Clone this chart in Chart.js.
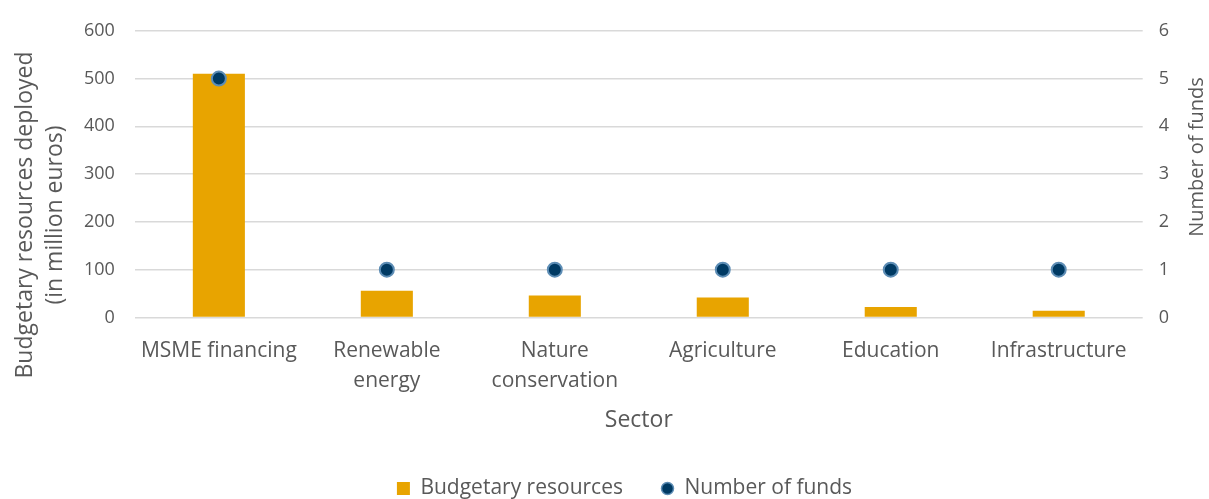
<!DOCTYPE html>
<html>
<head>
<meta charset="utf-8">
<script src="https://cdn.jsdelivr.net/npm/chart.js@4"></script>
<style>
  html, body { margin: 0; padding: 0; background: #fff; }
  #wrap { width: 1209px; height: 499px; }
</style>
</head>
<body>
<div id="wrap"><canvas id="chart" width="1209" height="499"></canvas></div>
<script>
// data
const sectors = [
  'MSME financing',
  ['Renewable', 'energy'],
  ['Nature', 'conservation'],
  'Agriculture',
  'Education',
  'Infrastructure'
];
const budgetValues = [510, 56, 46, 42, 22, 14];
const fundCounts = [5, 1, 1, 1, 1, 1];
const leftTicks = [0, 100, 200, 300, 400, 500, 600];
const rightTicks = [0, 1, 2, 3, 4, 5, 6];
const leftTitle = ['Budgetary resources deployed', '(in million euros)'];
const rightTitle = 'Number of funds';

const FONT = "'Open Sans', 'Noto Sans', sans-serif";
const textColor = '#595959';
const gridColor = '#d9d9d9';
const barColor = '#e8a400';
const dotFill = '#003a63';
const dotEdge = '#5d8db5';

// small legend marker for the dot series
const dotIcon = document.createElement('canvas');
dotIcon.width = 15;
dotIcon.height = 15;
(() => {
  const g = dotIcon.getContext('2d');
  g.beginPath();
  g.arc(7.5, 7.5, 6, 0, Math.PI * 2);
  g.fillStyle = dotFill;
  g.fill();
  g.lineWidth = 1.5;
  g.strokeStyle = dotEdge;
  g.stroke();
})();

// both value-axis titles read bottom-to-top, as in the reference
const axisTitlePlugin = {
  id: 'axisTitles',
  afterDraw(chart) {
    const c = chart.ctx;
    c.save();
    c.fillStyle = textColor;
    c.textAlign = 'center';
    c.textBaseline = 'middle';

    c.font = '23px ' + FONT;
    c.save();
    c.translate(25, 215);
    c.rotate(-Math.PI / 2);
    c.fillText(leftTitle[0], 0, 0);
    c.fillText(leftTitle[1], 0, 30);
    c.restore();

    c.font = '20px ' + FONT;
    c.translate(1197, 157);
    c.rotate(-Math.PI / 2);
    c.fillText(rightTitle, 0, 0);
    c.restore();
  }
};

const ctx = document.getElementById('chart').getContext('2d');

new Chart(ctx, {
  data: {
    labels: sectors,
    datasets: [
      {
        type: 'bar',
        label: 'Budgetary resources',
        data: budgetValues,
        backgroundColor: barColor,
        yAxisID: 'y',
        barPercentage: 0.62,
        categoryPercentage: 0.5,
        pointStyle: 'rect',
        order: 2
      },
      {
        type: 'line',
        label: 'Number of funds',
        data: fundCounts,
        yAxisID: 'y1',
        showLine: false,
        pointStyle: 'circle',
        pointRadius: 7,
        pointBorderWidth: 2,
        pointBackgroundColor: dotFill,
        pointBorderColor: dotEdge,
        backgroundColor: dotFill,
        borderColor: dotEdge,
        order: 1
      }
    ]
  },
  options: {
    responsive: false,
    animation: false,
    layout: { padding: { top: 5, left: 64, right: 24, bottom: -10 } },
    plugins: {
      tooltip: { enabled: false },
      legend: {
        position: 'bottom',
        labels: {
          usePointStyle: true,
          sort: (a, b) => a.datasetIndex - b.datasetIndex,
          generateLabels: chart => chart.data.datasets.map((ds, i) => ({
            text: ds.label,
            datasetIndex: i,
            fillStyle: barColor,
            strokeStyle: barColor,
            lineWidth: 0,
            fontColor: textColor,
            pointStyle: i === 0 ? 'rect' : dotIcon,
            hidden: false
          })),
          boxWidth: 13,
          boxHeight: 13,
          padding: 38,
          color: textColor,
          font: { family: FONT, size: 21 }
        }
      }
    },
    scales: {
      x: {
        grid: { display: false },
        border: { display: false },
        ticks: {
          color: textColor,
          padding: 10,
          maxRotation: 0,
          autoSkip: false,
          font: { family: FONT, size: 21, lineHeight: 1.45 }
        },
        title: {
          display: true,
          text: 'Sector',
          color: textColor,
          padding: { top: 0, bottom: 6 },
          font: { family: FONT, size: 23 }
        }
      },
      y: {
        position: 'left',
        min: 0,
        max: 600,
        afterBuildTicks: axis => { axis.ticks = leftTicks.map(v => ({ value: v })); },
        grid: { color: gridColor, lineWidth: 1.5, drawTicks: false },
        border: { display: false },
        ticks: {
          color: textColor,
          padding: 20,
          font: { family: FONT, size: 18 }
        }
      },
      y1: {
        position: 'right',
        min: 0,
        max: 6,
        afterBuildTicks: axis => { axis.ticks = rightTicks.map(v => ({ value: v })); },
        grid: { display: false, drawTicks: false },
        border: { display: false },
        ticks: {
          color: textColor,
          padding: 16,
          font: { family: FONT, size: 18 }
        }
      }
    }
  },
  plugins: [axisTitlePlugin]
});
</script>
</body>
</html>
